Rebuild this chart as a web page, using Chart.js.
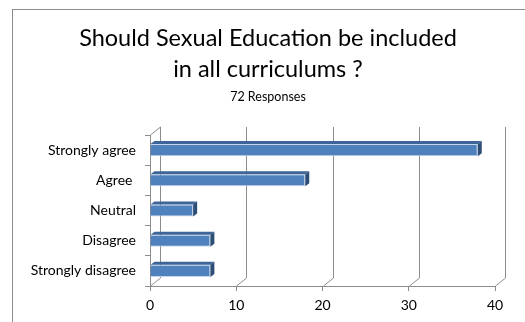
<!DOCTYPE html>
<html>
<head>
<meta charset="utf-8">
<script src="https://cdn.jsdelivr.net/npm/chart.js@4"></script>
<style>
  html, body { margin: 0; padding: 0; background: #fff; overflow: hidden; }
  #wrap { position: relative; width: 525px; height: 322px; }
  #frame { position: absolute; left: 12px; top: 9px; width: 540px; height: 340px; border: 1px solid #8c8c8c; box-sizing: border-box; }
  #chart { position: absolute; left: 0; top: 0; }
  .head { position: absolute; left: 12px; width: 512px; text-align: center; color: #000; font-family: Lato, "Open Sans", sans-serif; }
  #title { top: 22px; font-size: 23.5px; line-height: 31px; }
  #subtitle { top: 89px; font-size: 12.5px; line-height: 16px; }
</style>
</head>
<body>
<div id="wrap">
  <div id="frame"></div>
  <canvas id="chart" width="525" height="322"></canvas>
  <div id="title" class="head"></div>
  <div id="subtitle" class="head"></div>
</div>
<script>
// data
const categories = ['Strongly agree', 'Agree ', 'Neutral', 'Disagree', 'Strongly disagree'];
const responses = [38, 18, 5, 7, 7];
const xTicks = [0, 10, 20, 30, 40];
const titleLines = ['Should Sexual Education be included', 'in all curriculums ?'];
const subtitleText = '72 Responses';

const FONT = 'Lato, "Open Sans", sans-serif';
const GRID = '#8c8c8c';

titleLines.forEach(line => {
  const d = document.createElement('div');
  d.textContent = line;
  document.getElementById('title').appendChild(d);
});
document.getElementById('subtitle').textContent = subtitleText;

// fake the Excel 3D look: back wall lines and shaded bar sides
const wall3d = {
  id: 'wall3d',
  beforeDatasetsDraw(chart) {
    const { ctx, chartArea, scales } = chart;
    const dx = 10, dy = 8;
    ctx.save();
    ctx.strokeStyle = GRID;
    ctx.lineWidth = 1;
    ctx.beginPath();
    xTicks.forEach(v => {
      const px = Math.round(scales.x.getPixelForValue(v)) + 0.5;
      ctx.moveTo(px, chartArea.bottom);
      ctx.lineTo(px + dx, chartArea.bottom - dy);
      ctx.lineTo(px + dx, chartArea.top - dy);
    });
    const lx = Math.round(chartArea.left) + 0.5;
    ctx.moveTo(lx, chartArea.top);
    ctx.lineTo(lx + dx, chartArea.top - dy);
    ctx.stroke();
    ctx.restore();
  },
  afterDatasetsDraw(chart) {
    const { ctx } = chart;
    const dx = 4, dy = 3;
    ctx.save();
    chart.getDatasetMeta(0).data.forEach(bar => {
      const { x, y, base, height } = bar.getProps(['x', 'y', 'base', 'height'], true);
      const top = y - height / 2, bottom = y + height / 2;
      ctx.fillStyle = '#3d6598';
      ctx.beginPath();
      ctx.moveTo(base, top);
      ctx.lineTo(base + dx, top - dy);
      ctx.lineTo(x + dx, top - dy);
      ctx.lineTo(x, top);
      ctx.closePath();
      ctx.fill();
      ctx.fillStyle = '#2c4d75';
      ctx.beginPath();
      ctx.moveTo(x, top);
      ctx.lineTo(x + dx, top - dy);
      ctx.lineTo(x + dx, bottom - dy);
      ctx.lineTo(x, bottom);
      ctx.closePath();
      ctx.fill();
    });
    ctx.restore();
  }
};

new Chart(document.getElementById('chart'), {
  type: 'bar',
  data: {
    labels: categories,
    datasets: [{
      data: responses,
      backgroundColor: '#4f81bd',
      borderColor: '#c6d6ea',
      borderWidth: 1,
      barPercentage: 0.4,
      categoryPercentage: 1
    }]
  },
  options: {
    indexAxis: 'y',
    responsive: false,
    animation: false,
    events: [],
    layout: { padding: { left: 0, right: 30, top: 135, bottom: 0 } },
    plugins: {
      legend: { display: false },
      tooltip: { enabled: false },
      title: { display: false }
    },
    scales: {
      x: {
        min: 0,
        max: 40,
        afterBuildTicks(scale) { scale.ticks = xTicks.map(v => ({ value: v })); },
        afterFit(scale) { scale.height = 36; },
        grid: { drawOnChartArea: false, tickLength: 5, color: GRID },
        border: { color: GRID },
        ticks: { color: '#000', padding: 6, font: { family: FONT, size: 14 } }
      },
      y: {
        afterFit(scale) { scale.width = 150; },
        grid: { drawOnChartArea: false, offset: true, tickLength: 5, color: GRID },
        border: { color: GRID },
        ticks: { color: '#000', padding: 9, font: { family: FONT, size: 14 } }
      }
    }
  },
  plugins: [wall3d]
});
</script>
</body>
</html>
